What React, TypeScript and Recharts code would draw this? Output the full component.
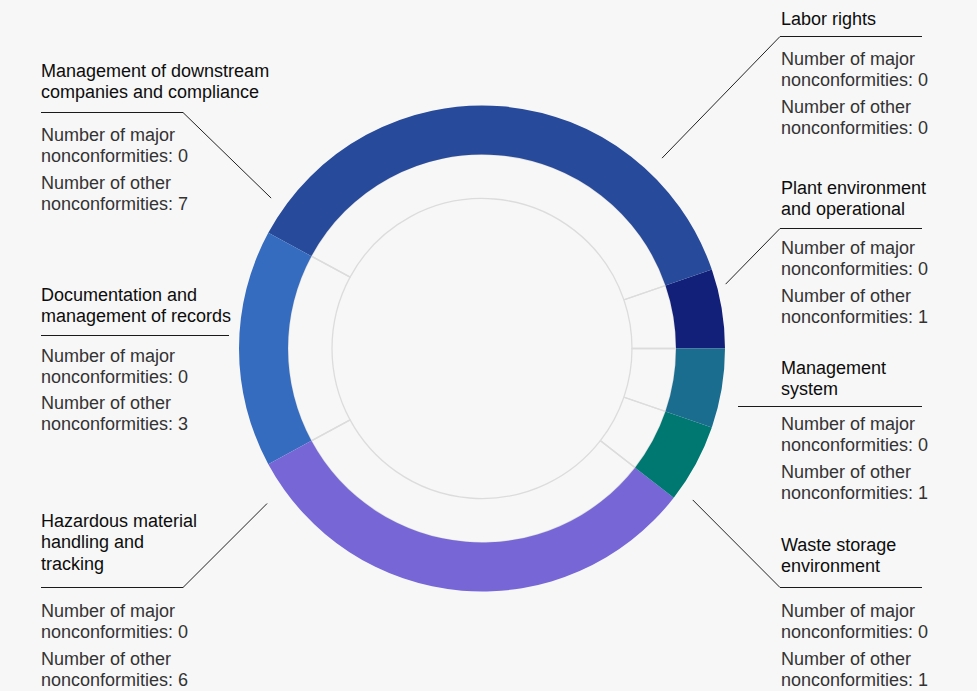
import { PieChart, Pie, Cell } from 'recharts';

// audit findings per area, in the order they go round the ring (counter-clockwise from 3 o'clock)
const categories = [
  'Plant environment and operational',
  'Labor rights',
  'Management of downstream companies and compliance',
  'Documentation and management of records',
  'Hazardous material handling and tracking',
  'Waste storage environment',
  'Management system',
];
const majorCounts = [0, 0, 0, 0, 0, 0, 0];
const otherCounts = [1, 0, 7, 3, 6, 1, 1];

// how each title is broken over lines in the callouts
const titleLines = [
  ['Plant environment', 'and operational'],
  ['Labor rights'],
  ['Management of downstream', 'companies and compliance'],
  ['Documentation and', 'management of records'],
  ['Hazardous material', 'handling and', 'tracking'],
  ['Waste storage', 'environment'],
  ['Management', 'system'],
];

const colors = ['#13207a', '#13207a', '#284a9a', '#356cc0', '#7766d6', '#007872', '#1b6d8f'];

const CX = 482;
const CY = 348.5;

// callout layout: text column, baselines, rule and leader end (polar, around the ring centre)
const callouts = [
  { x: 781, titles: 193.5, rule: [780, 922, 228], body: 254, leader: [14.8, 252] },
  { x: 781, titles: 25, rule: [780, 922, 36], body: 65, leader: [46.6, 262] },
  { x: 41, titles: 77, rule: [41, 183, 112], body: 141, leader: [144.5, 259] },
  { x: 41, titles: 300.5, rule: [41, 229, 335], body: 361.5, leader: null },
  { x: 41, titles: 527, rule: [41, 183, 587], body: 617, leader: [215.8, 265] },
  { x: 781, titles: 550.5, rule: [780, 922, 587], body: 617, leader: [324.3, 259.5] },
  { x: 781, titles: 374, rule: [738, 922, 406], body: 430, leader: null },
];

const data = categories.map((name, i) => ({ name, value: otherCounts[i] }));

const polar = (angle: number, r: number) => {
  const rad = (angle * Math.PI) / 180;
  return [CX + r * Math.cos(rad), CY - r * Math.sin(rad)];
};

function Callouts() {
  return (
    <svg width={977} height={691} style={{ position: 'absolute', left: 0, top: 0, pointerEvents: 'none' }}>
      {callouts.map((c, i) => {
        const [x1, x2, ry] = c.rule;
        const y = Math.round(ry) + 0.5;
        const leftSide = c.x < CX;
        const corner = leftSide ? x2 : x1;
        const end = c.leader ? polar(c.leader[0], c.leader[1]) : null;
        const body = [
          'Number of major',
          `nonconformities: ${majorCounts[i]}`,
          'Number of other',
          `nonconformities: ${otherCounts[i]}`,
        ];
        const offs = [0, 21, 47.5, 68.5];
        return (
          <g key={categories[i]} fontFamily="'Liberation Sans', Arial, sans-serif" fontSize={18}>
            {titleLines[i].map((t, j) => (
              <text key={j} x={c.x} y={c.titles + j * 21.3} fill="#0d0d0d">
                {t}
              </text>
            ))}
            <line x1={x1} x2={x2} y1={y} y2={y} stroke="#1a1a1a" strokeWidth={1} />
            {end && <line x1={corner} y1={y} x2={end[0]} y2={end[1]} stroke="#222" strokeWidth={1} />}
            {body.map((t, j) => (
              <text key={'b' + j} x={c.x} y={c.body + offs[j]} fill="#333">
                {t}
              </text>
            ))}
          </g>
        );
      })}
    </svg>
  );
}

export default function App() {
  return (
    <div style={{ position: 'fixed', left: 0, top: 0, width: 977, height: 691, background: '#f7f7f7' }}>
      <PieChart width={977} height={691} margin={{ top: 0, right: 0, bottom: 0, left: 0 }}>
        <Pie
          data={data}
          dataKey="value"
          cx={CX}
          cy={CY}
          startAngle={0}
          endAngle={360}
          innerRadius={150}
          outerRadius={194}
          fill="transparent"
          stroke="#dcdcdc"
          strokeWidth={1.3}
          isAnimationActive={false}
        />
        <Pie
          data={data}
          dataKey="value"
          cx={CX}
          cy={CY}
          startAngle={0}
          endAngle={360}
          innerRadius={194}
          outerRadius={243}
          stroke="none"
          isAnimationActive={false}
        >
          {data.map((d, i) => (
            <Cell key={d.name} fill={colors[i]} />
          ))}
        </Pie>
      </PieChart>
      <Callouts />
    </div>
  );
}
